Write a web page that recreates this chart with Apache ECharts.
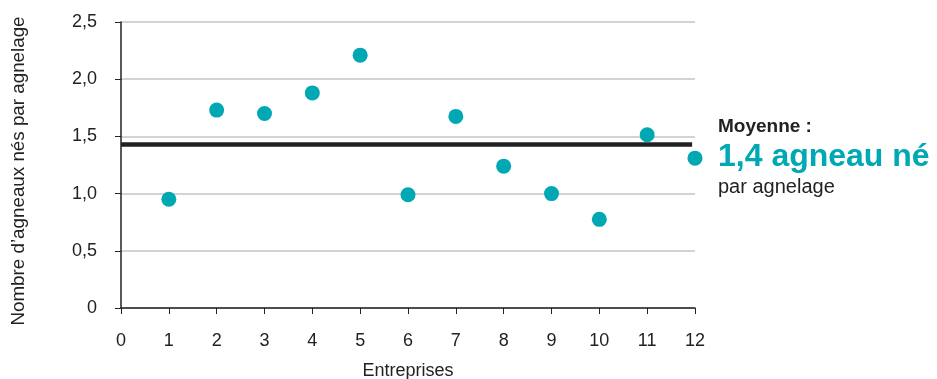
<!DOCTYPE html>
<html>
<head>
<meta charset="utf-8">
<script src="https://cdn.jsdelivr.net/npm/echarts@6/dist/echarts.min.js"></script>
<style>html,body{margin:0;padding:0;background:#fff;overflow:hidden;}#c{width:937px;height:379px;}</style>
</head>
<body>
<div id="c"></div>
<script>
const enterprises = [1, 2, 3, 4, 5, 6, 7, 8, 9, 10, 11, 12];
const lambsPerLambing = [0.95, 1.73, 1.70, 1.88, 2.21, 0.99, 1.675, 1.24, 1.0, 0.775, 1.515, 1.31];
const meanValue = 1.43;
const yTicks = { min: 0, max: 2.5, interval: 0.5 };
const xTicks = { min: 0, max: 12, interval: 1 };

const chart = echarts.init(document.getElementById('c'), null, { renderer: 'canvas', width: 937, height: 379 });
const FONT = '"Liberation Sans", Arial, Helvetica, sans-serif';
const teal = '#00a8b4';
chart.setOption({
  animation: false,
  grid: { left: 121, right: 242, top: 22, bottom: 71, containLabel: false, outerBoundsMode: 'none' },
  xAxis: {
    type: 'value', min: xTicks.min, max: xTicks.max, interval: xTicks.interval,
    name: 'Entreprises', nameLocation: 'middle', nameGap: 54, nameMoveOverlap: false,
    nameTextStyle: { fontFamily: FONT, fontSize: 18, color: '#222' },
    axisLine: { show: true, lineStyle: { color: '#222', width: 1.5 } },
    axisTick: { show: true, length: 6, lineStyle: { color: '#222', width: 1 } },
    axisLabel: { fontFamily: FONT, fontSize: 18, color: '#222', margin: 24 },
    splitLine: { show: false }
  },
  yAxis: {
    type: 'value', min: yTicks.min, max: yTicks.max, interval: yTicks.interval,
    name: "Nombre d\u2019agneaux nés par agnelage", nameLocation: 'middle', nameGap: 93, nameRotate: 90, nameMoveOverlap: false,
    nameTextStyle: { fontFamily: FONT, fontSize: 18.8, color: '#222', padding: [0, 12, 0, 0] },
    axisLine: { show: true, lineStyle: { color: '#222', width: 1.5 } },
    axisTick: { show: true, inside: false, length: 6, lineStyle: { color: '#222', width: 1 } },
    axisLabel: { fontFamily: FONT, fontSize: 18, color: '#222', margin: 24,
      formatter: v => v === 0 ? '0' : v.toFixed(1).replace('.', ',') },
    splitLine: { show: true, lineStyle: { color: '#c4c4c4', width: 1.5 } }
  },
  series: [{
    type: 'scatter',
    data: enterprises.map((e, i) => [e, lambsPerLambing[i]]),
    symbolSize: 15,
    itemStyle: { color: teal, opacity: 1 },
    z: 3,
    markLine: {
      silent: true, symbol: 'none', label: { show: false },
      lineStyle: { color: '#222', width: 4.5, type: 'solid' },
      data: [[{ coord: [0, meanValue] }, { coord: [11.94, meanValue] }]],
      z: 2
    }
  }],
  graphic: [
    { type: 'text', left: 718, top: 117, style: { text: 'Moyenne :', font: 'bold 19px ' + FONT, fill: '#222' } },
    { type: 'text', left: 718, top: 141, style: { text: '1,4 agneau né', font: 'bold 32px ' + FONT, fill: teal } },
    { type: 'text', left: 718, top: 177, style: { text: 'par agnelage', font: '20px ' + FONT, fill: '#222' } }
  ]
});
</script>
</body>
</html>
